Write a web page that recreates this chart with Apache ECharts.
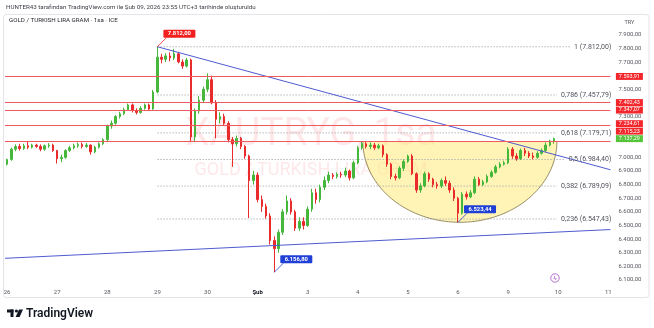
<!DOCTYPE html>
<html>
<head>
<meta charset="utf-8">
<script src="https://cdn.jsdelivr.net/npm/echarts@6/dist/echarts.min.js"></script>
<style>
html,body{margin:0;padding:0;background:#fff;overflow:hidden}
#chart{width:654px;height:328px}
</style>
</head>
<body>
<div id="chart"></div>
<script>
// ---------------- DATA ----------------
const dayLabels = ['26','27','28','29','30','Şub','3','4','5','6','9','10','11'];
const barsPerDay = 12;          // 2-hour candles
const totalSlots = 145;         // data bars + empty future space
// [open, close, low, high]
const ohlc = [
// Jan 26
[6950,6985,6940,6990],[6985,7060,6975,7070],[7060,7080,7045,7095],[7080,7065,7050,7100],
[7065,7085,7055,7100],[7085,7075,7060,7115],[7075,7090,7065,7100],[7090,7080,7070,7100],
[7080,7060,7045,7095],[7060,7085,7050,7095],[7085,7090,7070,7105],[7090,7050,7040,7100],
// Jan 27
[7050,6990,6955,7055],[6990,7000,6965,7020],[7000,7050,6990,7060],[7050,7070,7040,7085],
[7070,7085,7060,7100],[7085,7095,7070,7110],[7095,7080,7065,7110],[7080,7090,7070,7105],
[7090,7040,7020,7095],[7040,7075,7030,7085],[7075,7100,7065,7110],[7100,7130,7090,7140],
// Jan 28
[7130,7230,7120,7240],[7230,7250,7210,7270],[7250,7300,7240,7310],[7300,7320,7285,7335],
[7320,7350,7310,7365],[7350,7385,7340,7395],[7385,7345,7330,7395],[7345,7330,7315,7360],
[7330,7360,7320,7375],[7360,7385,7350,7395],[7385,7355,7340,7395],[7355,7480,7350,7495],
// Jan 29
[7480,7735,7470,7812],[7735,7720,7690,7760],[7720,7745,7700,7765],[7745,7730,7705,7770],
[7730,7760,7715,7795],[7760,7700,7690,7775],[7700,7670,7650,7720],[7670,7715,7660,7730],
[7715,7150,7112,7725],[7150,7340,7120,7360],[7340,7420,7320,7450],[7420,7500,7400,7520],
// Jan 30
[7500,7570,7480,7617],[7570,7400,7390,7600],[7400,7280,7140,7420],[7280,7300,7250,7330],
[7300,7250,7230,7320],[7250,7130,7110,7265],[7130,7100,6930,7150],[7100,7140,7080,7160],
[7140,7080,7060,7150],[7080,7010,6990,7090],[7010,6830,6555,7020],[6830,6870,6800,6900],
// Feb 2
[6870,6690,6670,6890],[6690,6640,6600,6720],[6640,6570,6550,6660],[6570,6390,6360,6590],
[6390,6330,6156.80,6420],[6330,6450,6300,6470],[6450,6600,6430,6620],[6600,6680,6580,6720],
[6680,6600,6580,6700],[6600,6480,6460,6615],[6480,6530,6460,6560],[6530,6500,6470,6560],
// Feb 3
[6500,6620,6490,6640],[6620,6740,6600,6770],[6740,6690,6660,6770],[6690,6780,6670,6800],
[6780,6830,6760,6860],[6830,6870,6810,6895],[6870,6860,6840,6885],[6860,6875,6845,6890],
[6875,6870,6850,6895],[6870,6900,6855,6925],[6900,6850,6830,6910],[6850,6960,6840,6975],
// Feb 4
[6960,7070,6950,7085],[7070,7100,7055,7115],[7100,7080,7065,7120],[7080,7090,7060,7110],
[7090,7070,7055,7105],[7070,7085,7060,7100],[7085,7020,7000,7095],[7020,6950,6930,7030],
[6950,6860,6840,6960],[6860,6850,6830,6880],[6850,6920,6840,6935],[6920,6970,6900,6985],
// Feb 5
[6970,7010,6960,7020],[7010,6880,6870,7025],[6880,6760,6740,6890],[6760,6790,6740,6810],
[6790,6880,6780,6895],[6880,6840,6820,6890],[6840,6800,6780,6850],[6800,6790,6770,6820],
[6790,6830,6775,6845],[6830,6810,6790,6860],[6810,6760,6740,6830],[6760,6700,6680,6780],
// Feb 6
[6700,6590,6523.44,6710],[6590,6730,6580,6745],[6730,6710,6690,6750],[6710,6740,6700,6760],
[6740,6840,6730,6860],[6840,6800,6790,6855],[6800,6820,6790,6835],[6820,6860,6810,6875],
[6860,6890,6850,6905],[6890,6930,6880,6945],[6930,6950,6920,6965],[6950,6960,6940,6975],
// Feb 9
[6960,7060,6950,7075],[7060,7010,6990,7075],[7010,6990,6975,7030],[6990,7050,6980,7065],
[7050,7030,7010,7070],[7030,7010,6995,7045],[7010,7000,6985,7035],[7000,7030,6990,7045],
[7030,7050,7020,7065],[7050,7090,7040,7110],[7090,7120,7080,7130],[7120,7137.29,7100,7145]
];
const lastPrice = 7137.29;
const yTicks = [6100,6200,6300,6400,6500,6600,6700,6800,6900,7000,7100,7200,7300,7400,7500,7600,7700,7800,7900];
const hLineValues = [7593.91, 7402.43, 7347.07, 7234.61, 7115.23];
const hLineLabels = ['7.593,91','7.402,43','7.347,07','7.234,61','7.115,23'];
const fibHigh = 7812.00, fibLow = 6156.80;
const fibLevels = [1, 0.786, 0.618, 0.5, 0.382, 0.236];
const fibStartX = 36.5;
const trendDown = [[36.5, 7812], [145, 6909]];
const trendUp = [[0, 6259], [145, 6470]];
const cup = {left: 85.7, right: 132.2, top: 7120, bottom: 6523.44};
const notes = [
  {x: 36.5,  price: 7812.00, text: '7.812,00', color: '#f21f1f'},
  {x: 64.5,  price: 6156.80, text: '6.156,80', color: '#1f3fd6'},
  {x: 108.5, price: 6523.44, text: '6.523,44', color: '#1f3fd6'}
];
const headerText = 'HUNTER43 tarafından TradingView.com ile Şub 09, 2026 23:55 UTC+3 tarihinde oluşturuldu';
const titleText = 'GOLD / TURKISH LIRA GRAM · 1sa · ICE';
const watermark1 = 'XAUTRYG, 1sa';
const watermark2 = 'GOLD / TURKISH LIRA GRAM';

// ---------------- HELPERS ----------------
const FONT = 'Roboto, "Liberation Sans", Arial, sans-serif';
function trNum(v){
  const s = Number(v).toFixed(2).split('.');
  return s[0].replace(/\B(?=(\d{3})+(?!\d))/g, '.') + ',' + s[1];
}
const cats = [];
for (let i = 0; i < totalSlots; i++) cats.push(i % barsPerDay === 0 ? 'D' + (i / barsPerDay) : 'h' + i);
const fibPrice = l => fibLow + l * (fibHigh - fibLow);
const UP = '#45b83c', DOWN = '#ea2b2b';

const fibSeries = fibLevels.map((l, k) => ({
  id: 'fib' + k, type: 'line', xAxisIndex: 1, yAxisIndex: 0, silent: true, z: 2,
  symbol: 'none', data: [[fibStartX, fibPrice(l)], [132, fibPrice(l)]],
  lineStyle: {color: '#a3a6ad', width: 0.8, type: [1.5, 1.5]}
}));

const option = {
  animation: false,
  backgroundColor: '#ffffff',
  grid: {left: 5, right: 43.6, top: 30, bottom: 43},
  xAxis: [
    {type: 'category', data: cats, boundaryGap: true,
     axisLine: {show: false}, axisTick: {show: false}, splitLine: {show: false},
     axisLabel: {
       interval: (i) => i % barsPerDay === 0,
       formatter: (v) => {
         if (v[0] !== 'D') return '';
         const t = dayLabels[+v.slice(1)];
         return t === 'Şub' ? '{b|' + t + '}' : t;
       },
       fontSize: 6, color: '#55585f', margin: 4, fontFamily: FONT,
       rich: {b: {fontSize: 6, fontWeight: 'bold', color: '#131722', fontFamily: FONT}}
     }},
    {type: 'value', min: 0, max: totalSlots, show: false}
  ],
  yAxis: {
    type: 'value', position: 'right', min: 6063, max: 7935,
    splitLine: {show: false}, axisLine: {show: false}, axisTick: {show: false},
    axisLabel: {customValues: yTicks, formatter: v => trNum(v), fontSize: 6, color: '#55585f', margin: 8, fontFamily: FONT}
  },
  series: [
    {id: 'cup', type: 'custom', xAxisIndex: 1, yAxisIndex: 0, z: 1, silent: true,
     data: [[cup.left, cup.top]],
     renderItem: (params, api) => {
       const L = api.coord([cup.left, cup.top]);
       const R = api.coord([cup.right, cup.top]);
       const B = api.coord([(cup.left + cup.right) / 2, cup.bottom]);
       const cx = (L[0] + R[0]) / 2, cy = L[1], rx = (R[0] - L[0]) / 2, ry = B[1] - cy;
       const pts = [];
       for (let k = 0; k <= 80; k++) { const t = Math.PI * k / 80; pts.push([cx - rx * Math.cos(t), cy + ry * Math.sin(t)]); }
       return {type: 'group', children: [
         {type: 'polygon', shape: {points: pts}, style: {fill: 'rgba(255,234,110,0.5)'}},
         {type: 'polyline', shape: {points: pts}, style: {stroke: '#7d7448', lineWidth: 0.8, fill: null}}
       ]};
     }},
    {id: 'candles', type: 'candlestick', xAxisIndex: 0, yAxisIndex: 0, z: 3, data: ohlc, barWidth: 2,
     itemStyle: {color: UP, color0: DOWN, borderColor: UP, borderColor0: DOWN, borderWidth: 1},
     markLine: {silent: true, symbol: ['none', 'none'], label: {show: false},
       lineStyle: {color: '#ef5a5f', width: 1, type: 'solid'},
       data: hLineValues.map(v => ({yAxis: v}))}},
    {id: 'tdown', type: 'line', xAxisIndex: 1, yAxisIndex: 0, z: 4, silent: true, symbol: 'none',
     data: trendDown, lineStyle: {color: '#4f5bd0', width: 1}},
    {id: 'tup', type: 'line', xAxisIndex: 1, yAxisIndex: 0, z: 4, silent: true, symbol: 'none',
     data: trendUp, lineStyle: {color: '#4f5bd0', width: 1}}
  ].concat(fibSeries)
};

const chart = echarts.init(document.getElementById('chart'), null, {renderer: 'canvas', width: 654, height: 328});
chart.setOption(option);

// --------------- SECOND PASS: annotations positioned through the axes ---------------
const finder = {xAxisIndex: 1, yAxisIndex: 0};
const P = (x, y) => chart.convertToPixel(finder, [x, y]);
const gridRight = P(totalSlots, 7000)[0];

// price-scale labels with overlap resolution
const boxW = 27, boxH = 7.5, scaleX = gridRight + 5.5;
const placed = [{y: P(0, lastPrice)[1], text: trNum(lastPrice), color: '#55c43a'}];
hLineValues.map((v, k) => ({y: P(0, v)[1], text: hLineLabels[k], color: '#f2262b'}))
  .sort((a, b) => b.y - a.y)
  .forEach(r => {
    let y = r.y, moved = true;
    while (moved) { moved = false; for (const p of placed) { if (Math.abs(p.y - y) < boxH) { y = p.y - boxH; moved = true; } } }
    r.y = y; placed.push(r);
  });
const visibleTicks = yTicks.filter(t => placed.every(p => Math.abs(P(0, t)[1] - p.y) >= 5.5));

const els = [];
// watermark
els.push({type: 'text', z: 0, silent: true, style: {text: watermark1, x: 311, y: 135, align: 'center', verticalAlign: 'middle', fontSize: 39, fontFamily: FONT, fill: 'rgba(242,54,69,0.12)'}});
els.push({type: 'text', z: 0, silent: true, style: {text: watermark2, x: 311, y: 170, align: 'center', verticalAlign: 'middle', fontSize: 18, fontFamily: FONT, fill: 'rgba(242,54,69,0.12)'}});
// frame and header
els.push({type: 'rect', z: 0, silent: true, shape: {x: 3.5, y: 14.5, width: 645.5, height: 283, r: 3}, style: {fill: null, stroke: '#e3e5ea', lineWidth: 1}});
els.push({type: 'text', z: 100, style: {text: headerText, x: 6, y: 7, verticalAlign: 'middle', fontSize: 6.2, fontFamily: FONT, fill: '#3b3e45'}});
els.push({type: 'text', z: 100, style: {text: titleText, x: 9, y: 20, verticalAlign: 'middle', fontSize: 6.2, fontFamily: FONT, fill: '#26292f'}});
els.push({type: 'text', z: 100, style: {text: 'TRY', x: scaleX + boxW / 2, y: 23, align: 'center', verticalAlign: 'middle', fontSize: 5.5, fontFamily: FONT, fill: '#55585f'}});
// price-scale boxes
placed.forEach(p => {
  els.push({type: 'rect', z: 100, shape: {x: scaleX, y: p.y - boxH / 2 + 0.3, width: boxW, height: boxH - 0.6}, style: {fill: p.color}});
  els.push({type: 'text', z: 101, style: {text: p.text, x: scaleX + boxW / 2, y: p.y, align: 'center', verticalAlign: 'middle', fontSize: 5.5, fontFamily: FONT, fill: '#ffffff'}});
});
// fib labels (right aligned) and line ends
const ctx = document.createElement('canvas').getContext('2d');
ctx.font = '7px ' + FONT;
const fibUpdates = [];
fibLevels.forEach((l, k) => {
  const price = fibPrice(l);
  const txt = String(l).replace('.', ',') + ' (' + trNum(price) + ')';
  const py = P(0, price)[1];
  const rx = gridRight + 1;
  const w = ctx.measureText(txt).width;
  els.push({type: 'text', z: 50, style: {text: txt, x: rx, y: py, align: 'right', verticalAlign: 'middle', fontSize: 7, fontFamily: FONT, fill: '#50535b'}});
  const endX = chart.convertFromPixel(finder, [rx - w - 4, py])[0];
  fibUpdates.push({id: 'fib' + k, data: [[fibStartX, price], [endX, price]]});
});
// callout notes
notes.forEach(n => {
  const a = P(n.x, n.price);
  els.push({type: 'line', z: 60, shape: {x1: a[0], y1: a[1], x2: a[0] + 9, y2: a[1] - 9}, style: {stroke: n.color, lineWidth: 0.8}});
  els.push({type: 'rect', z: 60, shape: {x: a[0] + 6, y: a[1] - 17, width: 32, height: 8, r: 1}, style: {fill: n.color}});
  els.push({type: 'text', z: 61, style: {text: n.text, x: a[0] + 22, y: a[1] - 13, align: 'center', verticalAlign: 'middle', fontSize: 5.8, fontWeight: 'bold', fontFamily: FONT, fill: '#ffffff'}});
});
// small event icon
els.push({type: 'circle', z: 50, shape: {cx: 555, cy: 278, r: 4.2}, style: {fill: '#fff', stroke: '#a64dc4', lineWidth: 0.8}});
els.push({type: 'text', z: 51, style: {text: 'ϟ', x: 555, y: 278, align: 'center', verticalAlign: 'middle', fontSize: 6, fill: '#a64dc4'}});
// TradingView logo
els.push({type: 'rect', z: 100, shape: {x: 7, y: 309.5, width: 6.5, height: 3}, style: {fill: '#131722'}});
els.push({type: 'rect', z: 100, shape: {x: 10.5, y: 309.5, width: 3, height: 7.5}, style: {fill: '#131722'}});
els.push({type: 'circle', z: 100, shape: {cx: 16.4, cy: 311, r: 1.6}, style: {fill: '#131722'}});
els.push({type: 'polygon', z: 100, shape: {points: [[19, 309.5], [23, 309.5], [19.6, 317], [15.6, 317]]}, style: {fill: '#131722'}});
els.push({type: 'text', z: 100, style: {text: 'TradingView', x: 26, y: 313.5, verticalAlign: 'middle', fontSize: 12, fontWeight: 600, fontFamily: FONT, fill: '#131722'}});

chart.setOption({
  yAxis: {axisLabel: {customValues: visibleTicks}},
  series: fibUpdates,
  graphic: {elements: els}
});
</script>
</body>
</html>
